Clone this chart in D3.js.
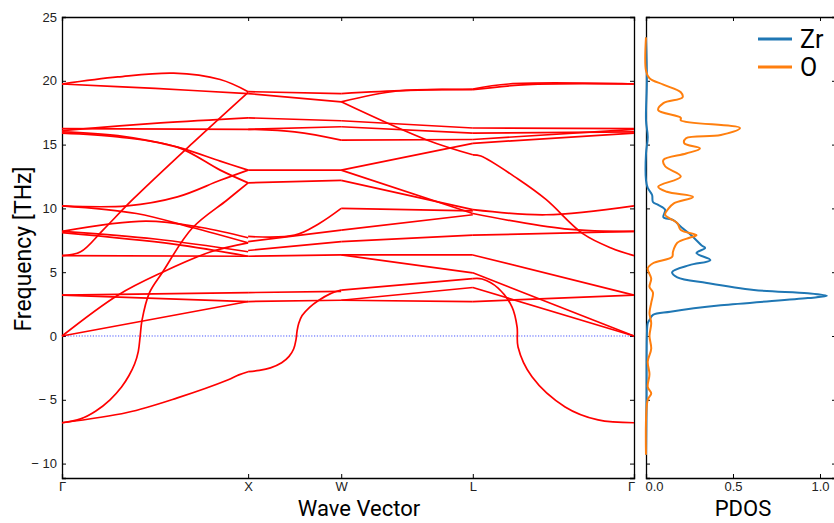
<!DOCTYPE html>
<html>
<head>
<meta charset="utf-8">
<script src="https://cdn.jsdelivr.net/npm/d3@7"></script>
<style>
  body { margin: 0; background: #fff; }
  svg { display: block; font-family: Roboto, "DejaVu Sans", sans-serif; }
  .tick text { font-size: 13px; fill: #222; }
  .tick line { stroke: #000; }
  .domain { stroke: #000; stroke-width: 1.3; }
</style>
</head>
<body>
<div id="chart"></div>
<script>
'use strict';

// high-symmetry path (cumulative k distance) and labels
const kNodes = [0, 1, 1.5, 2.207, 3.073];
const kLabels = ['Γ', 'X', 'W', 'L', 'Γ'];
const freqTicks = [-10, -5, 0, 5, 10, 15, 20, 25];
const pdosTicks = [0, 0.5, 1.0];

// band lines per path segment, points are [k, frequency THz]
const bandsGX = [
  [[0,19.75],[0.3,20.3],[0.6,20.6],[0.85,20.1],[1,19.15]],
  [[0,19.75],[0.5,19.4],[1,19.0]],
  [[0,16.1],[0.53,16.7],[1,17.1]],
  [[0,16.25],[1,16.2]],
  [[0,16.0],[0.3,15.7],[0.62,14.8],[0.85,13.7],[1,13.0]],
  [[0,15.9],[0.3,15.6],[0.62,14.8],[0.85,13.0],[1,12.0]],
  [[0,10.2],[0.35,10.2],[0.62,10.9],[0.85,12.2],[1,13.0]],
  [[0,10.2],[0.4,9.6],[0.7,8.5],[1,7.3]],
  [[0,8.2],[0.45,9.0],[0.75,8.5],[1,7.7]],
  [[0,8.2],[0.5,7.6],[1,6.6]],
  [[0,8.1],[0.6,7.2],[1,6.25]],
  [[0,6.3],[1,6.25]],
  [[0,6.3],[0.1,6.6],[0.22,8.3],[0.38,10.7],[0.7,15.1],[1,19.1]],
  [[0,3.2],[1,3.4]],
  [[0,3.2],[1,2.7]],
  [[0,0],[1,2.7]],
  [[0,0],[0.3,3.2],[0.54,5.0],[0.8,6.6],[1,7.3]],
  [[0,-6.8],[0.35,-6.0],[0.62,-4.85],[0.89,-3.45],[0.95,-3.05],[1,-2.8]],
  [[0,-6.8],[0.1,-6.5],[0.18,-5.9],[0.258,-5.0],[0.32,-4.0],[0.36,-3.1],[0.39,-2.2],[0.41,-1.2],[0.42,0],[0.43,1.25],[0.47,3.4],[0.54,5.0],[0.7,8.46],[0.887,10.66],[1,12.0]]
];

const bandsXW = [
  [[1,19.15],[1.5,19.0]],
  [[1,19.0],[1.5,18.35]],
  [[1,17.1],[1.5,16.87]],
  [[1,16.2],[1.5,16.4]],
  [[1,16.2],[1.25,16.0],[1.5,15.35]],
  [[1,13.0],[1.5,13.0]],
  [[1,12.0],[1.5,12.2]],
  [[1,7.8],[1.25,7.9],[1.38,8.8],[1.5,10.0]],
  [[1,7.4],[1.5,8.3]],
  [[1,6.7],[1.5,7.4]],
  [[1,6.25],[1.5,6.35]],
  [[1,3.4],[1.5,3.5]],
  [[1,2.7],[1.5,2.8]],
  [[1,-2.8],[1.06,-2.7],[1.12,-2.5],[1.18,-2.1],[1.22,-1.6],[1.245,-1.0],[1.257,-0.3],[1.263,0.4],[1.272,1.0],[1.29,1.6],[1.33,2.25],[1.38,2.8],[1.44,3.3],[1.5,3.6]]
];

const bandsWL = [
  [[1.5,19.0],[1.85,19.25],[2.207,19.35]],
  [[1.5,18.35],[1.8,19.2],[2.207,19.3]],
  [[1.5,18.35],[1.96,15.36],[2.207,14.2]],
  [[1.5,16.87],[2.207,16.3]],
  [[1.5,16.4],[2.207,15.9]],
  [[1.5,15.35],[2.207,15.4]],
  [[1.5,13.0],[2.207,15.1]],
  [[1.5,13.0],[2.207,9.6]],
  [[1.5,12.2],[2.207,9.9]],
  [[1.5,10.0],[2.207,9.8]],
  [[1.5,8.3],[2.207,9.5]],
  [[1.5,7.4],[2.207,7.9]],
  [[1.5,6.35],[2.207,6.35]],
  [[1.5,6.35],[2.207,4.95]],
  [[1.5,3.6],[2.207,4.5]],
  [[1.5,2.8],[2.207,3.8]],
  [[1.5,2.8],[2.207,2.7]]
];

const bandsLG = [
  [[2.207,19.35],[2.4,19.75],[3.073,19.75]],
  [[2.207,19.3],[2.5,19.7],[3.073,19.75]],
  [[2.207,16.3],[3.073,16.25]],
  [[2.207,15.9],[3.073,16.0]],
  [[2.207,15.4],[3.073,16.2]],
  [[2.207,15.1],[3.073,15.9]],
  [[2.207,14.2],[2.25,14.1],[2.45,12.3],[2.6,10.7],[2.8,8.0],[2.95,6.9],[3.073,6.3]],
  [[2.207,9.9],[2.6,9.5],[3.073,10.2]],
  [[2.207,9.6],[2.7,8.4],[3.073,8.2]],
  [[2.207,7.9],[3.073,8.2]],
  [[2.207,6.35],[3.073,3.2]],
  [[2.207,4.95],[3.073,0]],
  [[2.207,4.5],[2.257,4.47],[2.343,3.76],[2.418,2.27],[2.445,0.7],[2.45,-0.86],[2.525,-3.2],[2.703,-5.56],[2.88,-6.58],[3.073,-6.8]],
  [[2.207,3.8],[3.073,0]],
  [[2.207,2.7],[3.073,3.2]]
];

// projected DOS, points are [frequency THz, states]
const zrPdos = [[-9.3,0],[-5,0.003],[0,0.005],[1.0,0.01],[1.25,0.02],[1.65,0.04],[1.9,0.14],[2.4,0.43],[2.97,0.93],[3.15,1.04],[3.35,0.93],[3.6,0.62],[4.15,0.35],[4.6,0.18],[5.0,0.15],[5.55,0.25],[5.95,0.37],[6.5,0.29],[6.9,0.34],[7.1,0.32],[7.9,0.26],[8.5,0.205],[9.1,0.155],[9.3,0.10],[9.9,0.11],[10.27,0.07],[10.5,0.04],[11.05,0.035],[11.6,0.01],[12.2,0.0],[14.3,0.0],[15.6,0.01],[16.9,0.0],[20,0.005],[23.4,0]];
const oPdos = [[-9.3,0],[-5,0.01],[-4.5,0.03],[-4,0.01],[-3,0.02],[-2,0.01],[-1,0.03],[0,0.02],[1,0.03],[1.8,0.02],[2.6,0.03],[3.4,0.04],[3.85,0.02],[4.5,0.03],[5.3,0.01],[5.7,0.04],[6.2,0.15],[6.6,0.155],[7.3,0.18],[7.7,0.25],[7.9,0.29],[8.3,0.2],[8.85,0.18],[9.5,0.11],[10.0,0.13],[10.4,0.16],[10.9,0.27],[11.3,0.12],[11.7,0.07],[12.5,0.2],[13.3,0.11],[13.8,0.1],[14.3,0.23],[14.7,0.31],[15.1,0.22],[15.5,0.23],[15.75,0.43],[16.3,0.54],[16.9,0.2],[17.1,0.2],[17.7,0.07],[18.25,0.1],[18.7,0.21],[19.1,0.2],[19.7,0.1],[20.2,0.02],[20.8,0],[23.4,0]];

const species = ['Zr', 'O'];
const speciesColors = ['#1f77b4', '#ff7f0e'];

// layout
const svgWidth = 834, svgHeight = 523;
const band = {left: 62, right: 634, top: 17, bottom: 478};
const dos = {left: 646, right: 836, top: 17, bottom: 478};
const fMin = -11.13, fMax = 25;

const svg = d3.select('#chart').append('svg')
  .attr('width', svgWidth)
  .attr('height', svgHeight);

const scaleK = d3.scaleLinear([0, 3.073], [band.left, band.right]);
const scaleF = d3.scaleLinear([fMin, fMax], [band.bottom, band.top]);
const scaleD = d3.scaleLinear([0, 1.092], [dos.left, dos.right]);

const minusFmt = d => d < 0 ? '\u2212 ' + (-d) : String(d);

// band panel axes, ticks pointing in
svg.append('g').attr('transform', `translate(${band.left},0)`)
  .call(d3.axisLeft(scaleF).tickValues(freqTicks).tickSize(-4).tickPadding(5).tickFormat(minusFmt));
svg.append('g').attr('transform', `translate(${band.right},0)`)
  .call(d3.axisRight(scaleF).tickValues(freqTicks).tickSize(-4).tickFormat(''));
const kAxis = svg.append('g').attr('transform', `translate(0,${band.bottom})`)
  .call(d3.axisBottom(scaleK).tickValues(kNodes).tickSize(-4).tickPadding(4).tickFormat((d, i) => kLabels[i]));
svg.append('g').attr('transform', `translate(0,${band.top})`)
  .call(d3.axisTop(scaleK).tickValues(kNodes).tickSize(-4).tickFormat(''));

// dos panel axes
svg.append('g').attr('transform', `translate(${dos.left},0)`)
  .call(d3.axisLeft(scaleF).tickValues(freqTicks).tickSize(-4).tickFormat(''));
svg.append('g').attr('transform', `translate(${dos.right},0)`)
  .call(d3.axisRight(scaleF).tickValues(freqTicks).tickSize(-4).tickFormat(''));
const dAxis = svg.append('g').attr('transform', `translate(0,${dos.bottom})`)
  .call(d3.axisBottom(scaleD).tickValues(pdosTicks).tickSize(-4).tickPadding(4).tickFormat(d3.format('.1f')));
svg.append('g').attr('transform', `translate(0,${dos.top})`)
  .call(d3.axisTop(scaleD).tickValues(pdosTicks).tickSize(-4).tickFormat(''));

svg.selectAll('.tick line').attr('stroke-width', 1);
// the two labels at the panel gap sit apart, as in the source figure
kAxis.selectAll('.tick text').filter((d, i) => i === kNodes.length - 1).attr('dx', -3);
dAxis.selectAll('.tick text').filter((d, i) => i === 0).attr('dx', 8);

// zero frequency guide
svg.append('line')
  .attr('x1', band.left).attr('x2', band.right)
  .attr('y1', scaleF(0)).attr('y2', scaleF(0))
  .attr('stroke', '#3344ff').attr('stroke-width', 0.9)
  .attr('stroke-dasharray', '1.2,1.6');

// band lines
const bandLine = d3.line()
  .x(d => scaleK(d[0]))
  .y(d => scaleF(d[1]))
  .curve(d3.curveCatmullRom.alpha(0.5));

const allBands = [].concat(bandsGX, bandsXW, bandsWL, bandsLG);
svg.append('g').selectAll('path')
  .data(allBands)
  .join('path')
  .attr('d', bandLine)
  .attr('fill', 'none')
  .attr('stroke', '#ff0000')
  .attr('stroke-width', 1.7);

// pdos lines
const dosLine = d3.line()
  .x(d => scaleD(d[1]))
  .y(d => scaleF(d[0]))
  .curve(d3.curveCatmullRom);

[zrPdos, oPdos].forEach((pts, i) => {
  svg.append('path')
    .attr('d', dosLine(pts))
    .attr('fill', 'none')
    .attr('stroke', speciesColors[i])
    .attr('stroke-width', 2);
});

// legend
species.forEach((name, i) => {
  const y = 39 + i * 28;
  svg.append('line')
    .attr('x1', 758).attr('x2', 792)
    .attr('y1', y).attr('y2', y)
    .attr('stroke', speciesColors[i]).attr('stroke-width', 3);
  svg.append('text')
    .attr('x', 800).attr('y', y + 9)
    .attr('font-size', 25)
    .text(name);
});

// axis titles
svg.append('text')
  .attr('text-anchor', 'middle')
  .attr('x', 359).attr('y', 516)
  .attr('font-size', 22)
  .text('Wave Vector');

svg.append('text')
  .attr('text-anchor', 'middle')
  .attr('x', 743).attr('y', 516)
  .attr('font-size', 22)
  .text('PDOS');

svg.append('text')
  .attr('text-anchor', 'middle')
  .attr('transform', 'translate(31,249) rotate(-90)')
  .attr('font-size', 23)
  .text('Frequency [THz]');
</script>
</body>
</html>
